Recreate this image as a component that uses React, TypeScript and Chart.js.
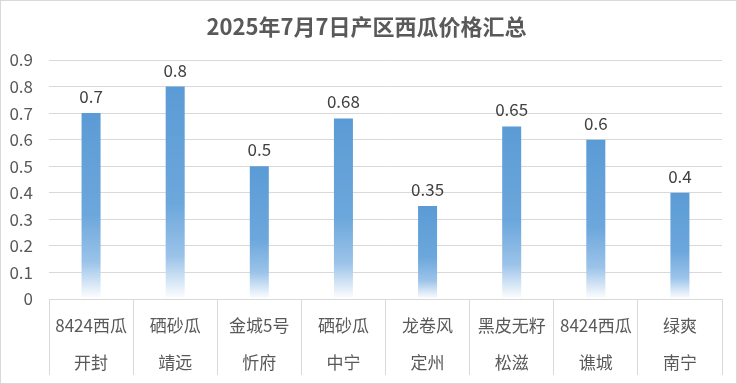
import React, { useEffect, useRef } from "react";
import { Chart, registerables } from "chart.js";

Chart.register(...registerables);

const title = "2025年7月7日产区西瓜价格汇总";
const varieties = ["8424西瓜", "硒砂瓜", "金城5号", "硒砂瓜", "龙卷风", "黑皮无籽", "8424西瓜", "绿爽"];
const regions = ["开封", "靖远", "忻府", "中宁", "定州", "松滋", "谯城", "南宁"];
const prices = [0.7, 0.8, 0.5, 0.68, 0.35, 0.65, 0.6, 0.4];
const yMin = 0;
const yMax = 0.9;
const yStep = 0.1;

const FONT = '"Noto Sans CJK SC", "Noto Sans", sans-serif';

const framePlugin = {
  id: "frame",
  beforeDraw(chart: any) {
    const { ctx, width, height } = chart;
    ctx.save();
    ctx.fillStyle = "#ffffff";
    ctx.fillRect(0, 0, width, height);
    ctx.strokeStyle = "#D9D9D9";
    ctx.lineWidth = 1;
    ctx.strokeRect(0.5, 0.5, width - 1, height - 1);
    ctx.restore();
  },
};

const titlePlugin = {
  id: "centeredTitle",
  afterDraw(chart: any) {
    const { ctx, width } = chart;
    ctx.save();
    ctx.font = `bold 22px ${FONT}`;
    ctx.fillStyle = "#595959";
    ctx.textAlign = "center";
    ctx.textBaseline = "middle";
    ctx.fillText(title, width / 2 - 2, 27);
    ctx.restore();
  },
};

const valueLabelPlugin = {
  id: "valueLabels",
  afterDatasetsDraw(chart: any) {
    const { ctx } = chart;
    const meta = chart.getDatasetMeta(0);
    ctx.save();
    ctx.font = `17px ${FONT}`;
    ctx.fillStyle = "#404040";
    ctx.textAlign = "center";
    ctx.textBaseline = "alphabetic";
    meta.data.forEach((el: any, i: number) => {
      ctx.fillText(String(prices[i]), el.x, el.y - 10);
    });
    ctx.restore();
  },
};

export default function App() {
  const ref = useRef<HTMLCanvasElement | null>(null);

  useEffect(() => {
    document.body.style.margin = "0";
    const canvas = ref.current;
    if (!canvas) return;
    const chart = new Chart(canvas, {
      type: "bar",
      data: {
        labels: varieties.map((v, i) => [v, regions[i]]),
        datasets: [
          {
            data: prices,
            backgroundColor: (c: any) => {
              const ch = c.chart;
              if (!ch.chartArea || c.type !== "data") return "#5B9BD5";
              const ys = ch.scales.y;
              const top = ys.getPixelForValue(c.raw);
              const base = ys.getPixelForValue(0);
              const g = ch.ctx.createLinearGradient(0, top, 0, base);
              g.addColorStop(0, "rgb(91,155,213)");
              g.addColorStop(0.55, "rgb(108,167,220)");
              g.addColorStop(0.8, "rgb(155,195,233)");
              g.addColorStop(1, "rgb(255,255,255)");
              return g;
            },
            borderWidth: 0,
            barPercentage: 0.226,
            categoryPercentage: 1,
          },
        ],
      },
      options: {
        responsive: false,
        animation: false,
        devicePixelRatio: 1,
        layout: { padding: { left: 0, right: 15, top: 60, bottom: 0 } },
        plugins: {
          legend: { display: false },
          tooltip: { enabled: false },
          title: { display: false },
        },
        scales: {
          x: {
            afterFit: (s: any) => {
              s.height = 85;
            },
            border: { display: true, color: "#D9D9D9" },
            grid: {
              offset: true,
              drawOnChartArea: false,
              drawTicks: true,
              tickLength: 76,
              color: "#D9D9D9",
            },
            ticks: {
              autoSkip: false,
              maxRotation: 0,
              minRotation: 0,
              padding: -68,
              color: "#595959",
              font: { family: FONT, size: 17, lineHeight: 37 / 17 },
            },
          },
          y: {
            min: yMin,
            max: yMax,
            afterFit: (s: any) => {
              s.width = 49;
            },
            border: { display: false },
            grid: { color: "#D9D9D9", drawTicks: false },
            ticks: {
              stepSize: yStep,
              padding: 16,
              color: "#595959",
              font: { family: FONT, size: 17 },
              callback: (v: any) => {
                const n = Number(Number(v).toFixed(1));
                return n === 0 ? "0" : String(n);
              },
            },
          },
        },
      },
      plugins: [framePlugin, valueLabelPlugin, titlePlugin],
    });
    return () => chart.destroy();
  }, []);

  return <canvas ref={ref} width={737} height={384} style={{ display: "block" }} />;
}
